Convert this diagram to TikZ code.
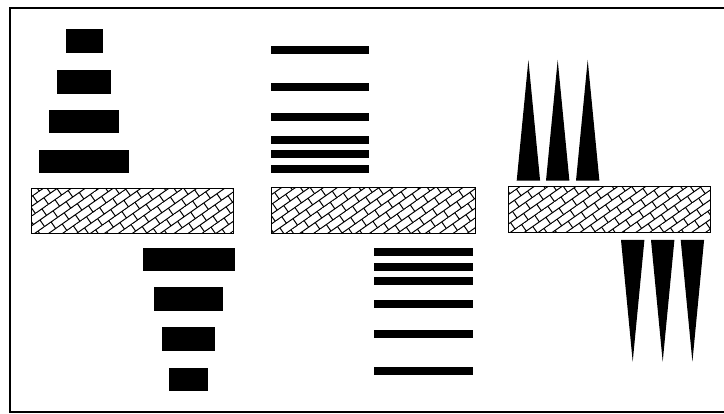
\documentclass[tikz,border=0pt]{standalone}
\usetikzlibrary{patterns.meta}

% diagonal brick hatching for the three plates
\pgfdeclarepattern{
  name=diagbricks,
  type=uncolored,
  bottom left={\pgfpoint{-0.5pt}{-0.5pt}},
  top right={\pgfpoint{16.5pt}{16.5pt}},
  tile size={\pgfpoint{16pt}{16pt}},
  tile transformation={\pgftransformrotate{35}},
  code={
    \pgfsetlinewidth{1pt}
    \pgfpathmoveto{\pgfpoint{0pt}{0pt}}\pgfpathlineto{\pgfpoint{16pt}{0pt}}
    \pgfpathmoveto{\pgfpoint{0pt}{8pt}}\pgfpathlineto{\pgfpoint{16pt}{8pt}}
    \pgfpathmoveto{\pgfpoint{0pt}{0pt}}\pgfpathlineto{\pgfpoint{0pt}{8pt}}
    \pgfpathmoveto{\pgfpoint{8pt}{8pt}}\pgfpathlineto{\pgfpoint{8pt}{16pt}}
    \pgfusepath{stroke}
  }
}

\tikzset{
  plate/.style={draw=black, line width=1.2pt, pattern=diagbricks},
  blk/.style={fill=black},
}

\begin{document}
\begin{tikzpicture}[x=1pt, y=-1pt, line join=miter]
  % Picture window
  \useasboundingbox (0,0) rectangle (724,414);
  \begin{scope}
    \clip (0,0) rectangle (724,414);
    \draw[line width=2.4pt] (10,8) rectangle (740,412);
  \end{scope}

  % Left: stepped blocks above and below the plate
  \foreach \w/\t in {37.6/29.3, 54/70.3, 70/110, 90/150}
    \fill[blk] (84.4-\w/2,\t) rectangle ++(\w,23.5);
  \draw[plate] (31.7,188.3) rectangle (233.3,233.3);
  \foreach \w/\t in {92.3/247.7, 69/287.3, 53/327.3, 39/367.7}
    \fill[blk] (188.8-\w/2,\t) rectangle ++(\w,23.5);

  % Middle: bars crowding towards the plate
  \foreach \t in {45.7, 83, 113.3, 135.7, 150.3, 164.7}
    \fill[blk] (270.7,\t) rectangle (369.3,\t+8);
  \draw[plate] (271.3,187.3) rectangle (475.3,233.3);
  \foreach \t in {247.7, 263, 277.3, 300, 330.3, 367}
    \fill[blk] (374.3,\t) rectangle (473,\t+8);

  % Right: wedges pointing away from the plate
  \foreach \a in {516.7, 546, 576}
    \fill[blk] (\a,180.7) -- (\a+23.4,180.7) -- (\a+11.7,60) -- cycle;
  \draw[plate] (508.3,186.7) rectangle (710.7,232.7);
  \foreach \a in {621, 651, 680.7}
    \fill[blk] (\a,240) -- (\a+23.4,240) -- (\a+11.7,361.7) -- cycle;
\end{tikzpicture}
\end{document}
